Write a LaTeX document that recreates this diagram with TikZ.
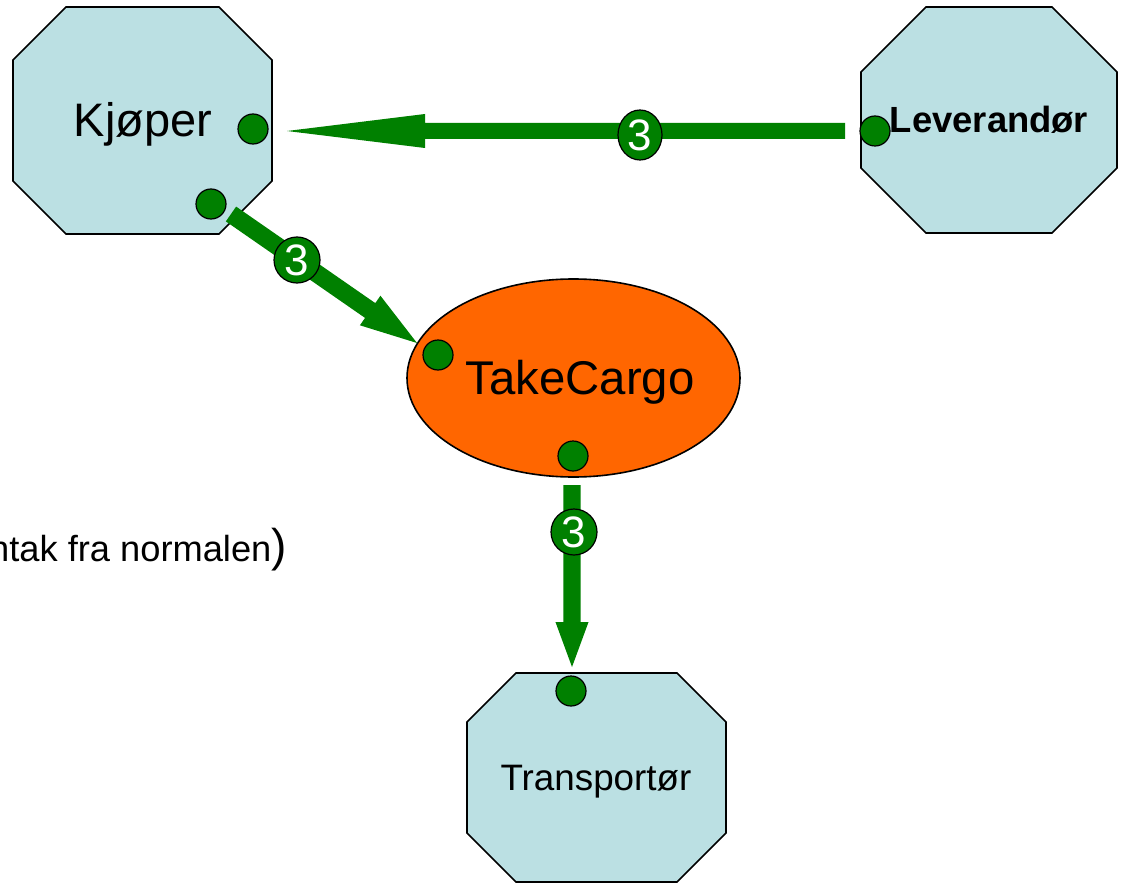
\documentclass[tikz,border=0pt]{standalone}
\usepackage{fontspec}
\setmainfont{Liberation Sans}
\usetikzlibrary{calc,shapes.geometric}
\definecolor{octfill}{RGB}{187,224,227}
\definecolor{cargo}{RGB}{255,102,0}
\definecolor{flowgreen}{RGB}{0,128,0}
\newcommand\octagonshape[5]{% x1 y1 x2 y2 cut
  \draw[octa] ({#1+#5},#2) -- ({#3-#5},#2) -- (#3,{#2+#5}) -- (#3,{#4-#5})
    -- ({#3-#5},#4) -- ({#1+#5},#4) -- (#1,{#4-#5}) -- (#1,{#2+#5}) -- cycle;}
\newcommand\blockarrow[5]{% start, end, shaft half, head half, head length
  \coordinate (#2-hb) at ($(#2)!#5!(#1)$);
  \fill[flowgreen] ($(#1)!#3!90:(#2)$) -- ($(#2-hb)!#3!90:(#2)$) -- ($(#2-hb)!#4!90:(#2)$)
    -- (#2) -- ($(#2-hb)!#4!-90:(#2)$) -- ($(#2-hb)!#3!-90:(#2)$) -- ($(#1)!#3!-90:(#2)$) -- cycle;}
\begin{document}
\begin{tikzpicture}[x=0.75pt,y=-0.75pt,
  octa/.style={fill=octfill,draw=black,line width=1.2pt,line join=miter},
  port/.style={circle,fill=flowgreen,draw=black,line width=0.9pt,minimum size=22.5pt,inner sep=0pt},
  badge/.style={circle,fill=flowgreen,draw=black,line width=0.9pt,minimum size=34.5pt,inner sep=0pt,
    text=white,font=\fontsize{33}{36}\selectfont},
  lbl/.style={anchor=base,inner sep=0pt,text=black}]
\useasboundingbox (0,0) rectangle (1123,884);
\clip (0,0) rectangle (1123,884);

% actors
\octagonshape{13}{7}{272}{234}{53}
\octagonshape{861}{7}{1117}{233}{65}
\octagonshape{467}{673}{726}{882}{49}

% interaction
\draw[fill=cargo,draw=black,line width=1.2pt] (573.5,378) ellipse [x radius=166.5, y radius=99];

% connector end points
\coordinate (a1s) at (845,131);
\coordinate (a1e) at (287,131);
\coordinate (a2s) at (231,214);
\coordinate (a2e) at (417,343);
\coordinate (a3s) at (572,485);
\coordinate (a3e) at (572,667);

\blockarrow{a1s}{a1e}{6pt}{12.75pt}{103.5pt}
\blockarrow{a2s}{a2e}{6.75pt}{13.5pt}{42.75pt}
\blockarrow{a3s}{a3e}{6.4pt}{12.4pt}{33.75pt}

% ports
\node[port] (kp1) at (253,129) {};
\node[port] (kp2) at (211,204) {};
\node[port] (lp) at (875,131) {};
\node[port] (tc1) at (438,355) {};
\node[port] (tc2) at (573,456) {};
\node[port] (tp) at (571,691) {};

% badges
\node[badge,ellipse,minimum width=33pt,minimum height=37.5pt] (b1) at (640,135) {3};
\node[badge] (b2) at (297,260) {3};
\node[badge] (b3) at (574,532) {3};

% texts
\node[lbl,font=\fontsize{35.25}{40}\selectfont] (kjoper) at (143,137) {Kjøper};
\node[lbl,font=\bfseries\fontsize{27.3}{32}\selectfont] (lev) at (989,133) {Leverandør};
\node[lbl,font=\fontsize{35.5}{40}\selectfont] (take) at (580,394) {TakeCargo};
\node[lbl,font=\fontsize{27.6}{32}\selectfont] (trans) at (596,790) {Transportør};
\node[lbl,anchor=base east,font=\fontsize{27.2}{31}\selectfont] (note) at (287,561)
  {ntak fra normalen{\fontsize{34.5}{40}\selectfont)}};
\end{tikzpicture}
\end{document}
